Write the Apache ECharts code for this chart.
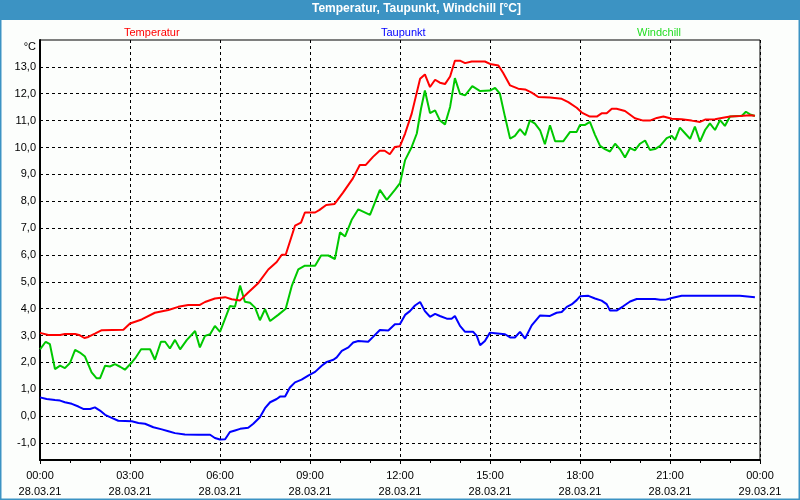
<!DOCTYPE html>
<html>
<head>
<meta charset="utf-8">
<script src="https://cdn.jsdelivr.net/npm/echarts@6/dist/echarts.min.js"></script>
<style>
html,body{margin:0;padding:0;background:#fcfefc;}
#chart{width:800px;height:500px;}
</style>
</head>
<body>
<div id="chart"></div>
<script>
// ---- Data (x = hours since 28.03.21 00:00) ----
const tempHours = [0,0.28,0.67,0.83,1.17,1.33,1.48,1.61,1.83,2.06,2.78,3.0,3.39,3.83,4.28,4.61,4.94,5.33,5.5,5.83,6.17,6.39,6.67,6.94,7.28,7.61,7.89,8.06,8.19,8.5,8.7,8.83,9.17,9.32,9.54,9.82,10.1,10.43,10.66,10.86,11.1,11.32,11.49,11.66,11.83,12.0,12.17,12.39,12.67,12.83,13.0,13.17,13.33,13.5,13.67,13.83,14.0,14.17,14.39,14.83,15.0,15.28,15.44,15.67,15.94,16.17,16.39,16.61,17.0,17.39,17.61,17.89,18.06,18.33,18.56,18.72,18.89,19.06,19.22,19.5,19.83,20.11,20.33,20.56,20.78,21.06,21.39,21.72,22.0,22.17,22.5,22.72,23.0,23.33,23.67,23.83];
const tempValues = [3.10,3.02,3.02,3.06,3.06,3.01,2.91,2.95,3.07,3.2,3.22,3.45,3.6,3.85,3.95,4.07,4.14,4.14,4.25,4.38,4.43,4.35,4.31,4.6,4.96,5.46,5.74,6.01,6.01,7.09,7.2,7.58,7.58,7.68,7.86,7.9,8.32,8.85,9.35,9.35,9.65,9.88,9.88,9.75,10.02,10.05,10.52,11.26,12.56,12.72,12.25,12.52,12.41,12.36,12.64,13.23,13.23,13.14,13.2,13.2,13.11,13.05,12.77,12.31,12.19,12.16,12.04,11.88,11.86,11.81,11.69,11.48,11.3,11.15,11.15,11.27,11.27,11.44,11.44,11.36,11.09,11.0,11.0,11.1,11.15,11.07,11.05,11.0,10.95,11.04,11.05,11.1,11.15,11.17,11.2,11.18];

const dewHours = [0,0.22,0.5,0.67,0.83,1.06,1.28,1.44,1.67,1.83,2.0,2.17,2.39,2.61,3.06,3.28,3.5,3.78,4.06,4.28,4.5,4.83,5.28,5.67,5.83,6.0,6.17,6.33,6.5,6.67,6.94,7.11,7.33,7.5,7.67,7.89,8.0,8.17,8.33,8.5,8.72,8.94,9.17,9.39,9.56,9.78,9.89,10.06,10.28,10.44,10.61,10.94,11.11,11.33,11.61,11.83,12.0,12.17,12.33,12.5,12.67,12.83,13.0,13.17,13.33,13.56,13.72,13.83,14.0,14.17,14.44,14.56,14.67,14.83,15.0,15.17,15.5,15.67,15.83,16.0,16.17,16.39,16.67,17.0,17.22,17.39,17.56,17.72,17.89,18.0,18.28,18.5,18.72,18.89,19.0,19.22,19.44,19.67,19.89,20.5,20.67,20.83,21.06,21.39,23.33,23.39,23.83];
const dewValues = [0.7,0.64,0.6,0.58,0.52,0.46,0.36,0.27,0.27,0.33,0.21,0.05,-0.06,-0.17,-0.19,-0.25,-0.28,-0.41,-0.49,-0.56,-0.63,-0.68,-0.69,-0.69,-0.81,-0.87,-0.86,-0.59,-0.53,-0.47,-0.43,-0.28,-0.04,0.3,0.52,0.64,0.73,0.73,1.07,1.26,1.36,1.51,1.65,1.88,2.02,2.1,2.19,2.43,2.56,2.74,2.8,2.77,2.96,3.21,3.19,3.42,3.43,3.77,3.91,4.12,4.25,3.91,3.7,3.81,3.73,3.63,3.63,3.73,3.36,3.14,3.14,2.99,2.64,2.8,3.11,3.09,3.05,2.93,2.93,3.14,2.89,3.38,3.75,3.73,3.85,3.88,4.07,4.16,4.32,4.46,4.48,4.38,4.3,4.17,3.93,3.93,4.09,4.27,4.36,4.36,4.33,4.33,4.4,4.48,4.48,4.43,4.43];

const chillHours = [0,0.19,0.33,0.5,0.67,0.83,1.0,1.17,1.33,1.5,1.72,1.89,2.0,2.17,2.33,2.5,2.67,2.83,3.06,3.17,3.37,3.67,3.83,4.03,4.17,4.33,4.5,4.67,4.89,5.17,5.33,5.5,5.67,5.83,6.0,6.33,6.5,6.67,6.83,7.0,7.17,7.33,7.5,7.67,7.94,8.19,8.39,8.61,8.83,9.17,9.37,9.61,9.83,10.0,10.17,10.39,10.61,11.0,11.33,11.56,11.83,12.0,12.17,12.39,12.56,12.7,12.83,13.0,13.17,13.33,13.5,13.67,13.83,14.0,14.17,14.41,14.67,15.0,15.17,15.33,15.5,15.67,15.83,16.0,16.17,16.33,16.5,16.67,16.83,17.0,17.17,17.44,17.67,17.89,18.0,18.17,18.33,18.5,18.67,18.83,19.0,19.17,19.33,19.5,19.67,19.83,20.0,20.17,20.33,20.5,20.67,20.89,21.06,21.17,21.33,21.5,21.67,21.83,22.0,22.17,22.33,22.5,22.67,22.83,23.0,23.28,23.39,23.53,23.67,23.83];
const chillValues = [2.49,2.77,2.68,1.75,1.88,1.79,1.98,2.47,2.37,2.22,1.63,1.41,1.41,1.88,1.85,1.94,1.84,1.73,2.0,2.15,2.49,2.49,2.1,2.77,2.77,2.52,2.84,2.49,2.83,3.17,2.56,2.99,3.05,3.36,3.14,4.1,4.07,4.86,4.26,4.22,4.04,3.57,3.98,3.54,3.77,4.0,4.84,5.46,5.6,5.6,5.98,5.98,5.85,6.84,6.69,7.31,7.7,7.49,8.42,8.05,8.42,8.67,9.53,10.02,10.52,11.44,12.12,11.28,11.38,11.01,10.86,11.51,12.58,12.0,11.94,12.28,12.1,12.12,12.22,12.0,11.14,10.33,10.43,10.68,10.46,11.01,10.89,10.64,10.12,10.83,10.23,10.23,10.58,10.58,10.84,10.84,10.95,10.47,10.06,9.94,9.85,10.14,9.94,9.63,9.98,9.89,10.14,10.26,9.91,9.94,10.06,10.35,10.43,10.28,10.74,10.53,10.32,10.78,10.22,10.65,10.9,10.65,11.02,10.8,11.15,11.17,11.17,11.33,11.23,11.17];

const seriesNames = ['Temperatur','Taupunkt','Windchill'];
const timeLabels = ['00:00','03:00','06:00','09:00','12:00','15:00','18:00','21:00','00:00'];
const dateLabels = ['28.03.21','28.03.21','28.03.21','28.03.21','28.03.21','28.03.21','28.03.21','28.03.21','29.03.21'];
const yTickValues = [-1,0,1,2,3,4,5,6,7,8,9,10,11,12,13];

// ---- Styling ----
const C_RED = '#ff0000', C_BLUE = '#0000ff', C_GREEN = '#00c800';
const FONT = 'Liberation Sans';

function pairs(xs, ys){ return xs.map((x,i)=>[x, ys[i]]); }

const chart = echarts.init(document.getElementById('chart'), null, {renderer:'canvas'});
const dashed = {type:[3,3], color:'#000', width:1};

const legendBase = {
  top: 22, itemWidth: 0, itemHeight: 0, icon: 'none', selectedMode: false,
  textStyle: {fontFamily: FONT, fontSize: 11}
};

chart.setOption({
  animation: false,
  backgroundColor: '#fcfefc',
  graphic: [
    {type:'rect', shape:{x:0,y:0,width:800,height:20}, style:{fill:'#3c93c3'}, z:0},
    {type:'rect', shape:{x:0.5,y:0.5,width:799,height:499}, style:{fill:null, stroke:'#3c93c3', lineWidth:2}, z:0}
  ],
  title: {
    text: 'Temperatur, Taupunkt, Windchill [°C]',
    left: 312, top: 3, padding: 0,
    textStyle: {color:'#ffffff', fontFamily: FONT, fontSize: 12, fontWeight:'bold'}
  },
  legend: [
    Object.assign({}, legendBase, {left: 114, data:[{name:seriesNames[0], textStyle:{color:C_RED}}]}),
    Object.assign({}, legendBase, {left: 371, data:[{name:seriesNames[1], textStyle:{color:C_BLUE}}]}),
    Object.assign({}, legendBase, {left: 627, data:[{name:seriesNames[2], textStyle:{color:'#22dd22'}}]})
  ],
  grid: {left:40, right:40, top:40, bottom:39, show:true, borderColor:'#000', borderWidth:1, backgroundColor:'transparent'},
  xAxis: {
    type:'value', min:0, max:24, interval:3,
    axisLine:{show:true, onZero:false, lineStyle:{color:'#000', width:2}},
    axisTick:{show:true, length:4, lineStyle:{color:'#000'}},
    minorTick:{show:true, splitNumber:3, length:3, lineStyle:{color:'#000'}},
    splitLine:{show:true, lineStyle:dashed},
    axisLabel:{
      color:'#000', fontFamily:FONT, fontSize:11, margin:8, lineHeight:16,
      formatter: function(v){ const i = Math.round(v/3); return timeLabels[i] + '\n' + dateLabels[i]; }
    }
  },
  yAxis: {
    type:'value', min:-1.63, max:14,
    name:'°C', nameLocation:'end', nameGap:-7,
    nameTextStyle:{color:'#000', fontFamily:FONT, fontSize:11, align:'right', verticalAlign:'middle', padding:[0,4,0,0]},
    axisLine:{show:true, onZero:false, lineStyle:{color:'#000', width:2}},
    axisTick:{show:false, customValues: yTickValues},
    splitLine:{show:true, lineStyle:dashed},
    axisLabel:{
      customValues: yTickValues,
      color:'#000', fontFamily:FONT, fontSize:11, margin:4,
      formatter: function(v){ return v.toFixed(1).replace('.', ','); }
    }
  },
  series: [
    {name:seriesNames[0], type:'line', data:pairs(tempHours,tempValues), showSymbol:false, lineStyle:{color:C_RED,width:2}, itemStyle:{color:C_RED}, z:3},
    {name:seriesNames[1], type:'line', data:pairs(dewHours,dewValues), showSymbol:false, lineStyle:{color:C_BLUE,width:2}, itemStyle:{color:C_BLUE}, z:3},
    {name:seriesNames[2], type:'line', data:pairs(chillHours,chillValues), showSymbol:false, lineStyle:{color:C_GREEN,width:2}, itemStyle:{color:C_GREEN}, z:2}
  ]
});
</script>
</body>
</html>
